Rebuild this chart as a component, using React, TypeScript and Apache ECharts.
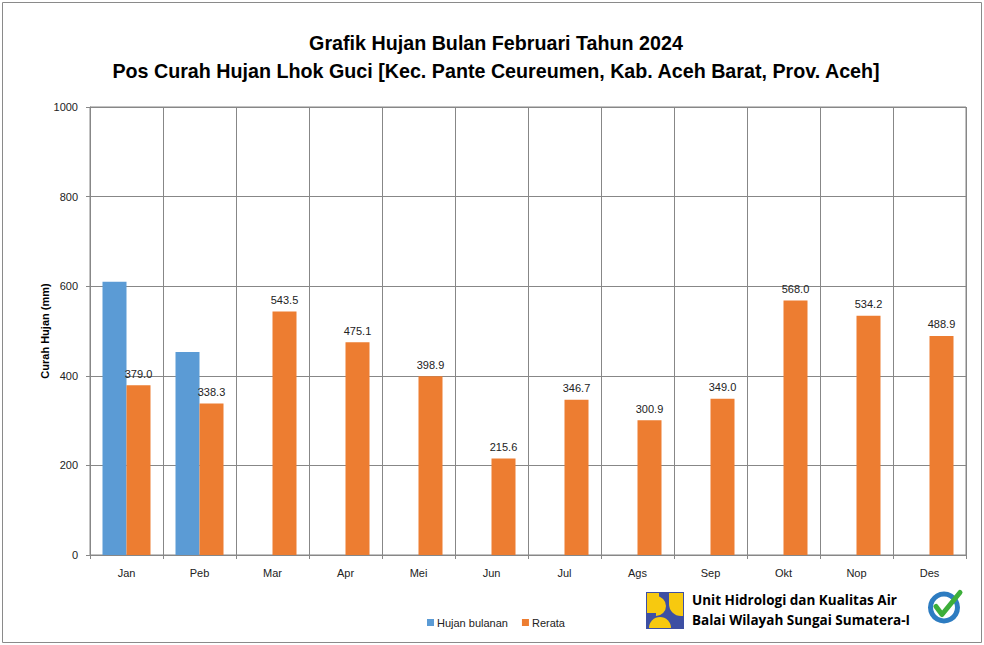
import React, { useEffect, useRef } from "react";
import * as echarts from "echarts";

const titleLine1 = "Grafik Hujan Bulan Februari Tahun 2024";
const titleLine2 = "Pos Curah Hujan Lhok Guci [Kec. Pante Ceureumen, Kab. Aceh Barat, Prov. Aceh]";
const months = ["Jan", "Peb", "Mar", "Apr", "Mei", "Jun", "Jul", "Ags", "Sep", "Okt", "Nop", "Des"];
const hujanBulanan: (number | null)[] = [610, 453, null, null, null, null, null, null, null, null, null, null];
const rerata = [379.0, 338.3, 543.5, 475.1, 398.9, 215.6, 346.7, 300.9, 349.0, 568.0, 534.2, 488.9];
const seriesNames = ["Hujan bulanan", "Rerata"];
const yAxisName = "Curah Hujan (mm)";
const footerLines = ["Unit Hidrologi dan Kualitas Air", "Balai Wilayah Sungai Sumatera-I"];

const FONT = "'Liberation Sans', Arial, sans-serif";
const GRID_COLOR = "#878787";

export default function App() {
  const ref = useRef<HTMLDivElement>(null);
  useEffect(() => {
    if (!ref.current) return;
    const chart = echarts.init(ref.current, null, { renderer: "svg" });
    chart.setOption({
      animation: false,
      backgroundColor: "#ffffff",
      textStyle: { fontFamily: FONT },
      title: [
        {
          text: titleLine1 + "\n" + titleLine2,
          left: 491,
          textAlign: "center",
          top: 24,
          textStyle: { fontFamily: FONT, fontWeight: "bold", fontSize: 19.7, color: "#000", lineHeight: 28 },
        },
      ],
      legend: {
        data: seriesNames,
        left: 422,
        top: 612,
        itemWidth: 7,
        itemHeight: 7,
        itemGap: 14,
        icon: "rect",
        textStyle: { fontFamily: FONT, fontSize: 11, color: "#222", padding: [0, 0, 0, -2] },
      },
      grid: {
        left: 90,
        right: 18,
        top: 107,
        bottom: 90,
        show: true,
        borderColor: GRID_COLOR,
        borderWidth: 1,
      },
      xAxis: {
        type: "category",
        data: months,
        boundaryGap: true,
        axisLine: { show: true, lineStyle: { color: GRID_COLOR } },
        axisTick: { show: true, length: 4, lineStyle: { color: GRID_COLOR } },
        splitLine: { show: true, lineStyle: { color: GRID_COLOR, width: 1 } },
        axisLabel: { fontFamily: FONT, fontSize: 11, color: "#222", margin: 12 },
      },
      yAxis: {
        type: "value",
        min: 0,
        max: 1000,
        interval: 200,
        name: yAxisName,
        nameLocation: "middle",
        nameGap: 40,
        nameMoveOverlap: false,
        nameTextStyle: { fontFamily: FONT, fontSize: 11, fontWeight: "bold", color: "#000" },
        axisLine: { show: true, lineStyle: { color: GRID_COLOR } },
        axisTick: { show: true, length: 4, lineStyle: { color: GRID_COLOR } },
        splitLine: { show: true, lineStyle: { color: GRID_COLOR, width: 1 } },
        axisLabel: { fontFamily: FONT, fontSize: 11, color: "#222", margin: 12, formatter: (v: number) => String(v) },
      },
      series: [
        {
          name: seriesNames[0],
          type: "bar",
          data: hujanBulanan,
          barWidth: 24,
          barGap: "0%",
          itemStyle: { color: "#5B9BD5" },
        },
        {
          name: seriesNames[1],
          type: "bar",
          data: rerata,
          barWidth: 24,
          barGap: "0%",
          itemStyle: { color: "#ED7D31" },
          label: {
            show: true,
            position: "top",
            distance: 6,
            fontFamily: FONT,
            fontSize: 11,
            color: "#222",
            formatter: (p: any) => Number(p.value).toFixed(1),
          },
        },
      ],
      graphic: [
        {
          type: "rect",
          shape: { x: 2.5, y: 2.5, width: 979, height: 640 },
          style: { fill: "none", stroke: "#8a8a8a", lineWidth: 1 },
          silent: true,
        },
        // PU logo
        {
          type: "group",
          left: 646,
          top: 592,
          children: [
            { type: "rect", shape: { x: 0, y: 0, width: 38, height: 37 }, style: { fill: "#3d4fa3" } },
            { type: "rect", shape: { x: 1, y: 1, width: 9, height: 20 }, style: { fill: "#f7c90f" } },
            { type: "sector", shape: { cx: 10, cy: 14, r: 10, startAngle: -Math.PI / 2, endAngle: Math.PI / 2 }, style: { fill: "#f7c90f" } },
            { type: "rect", shape: { x: 1, y: 1, width: 12, height: 6 }, style: { fill: "#f7c90f" } },
            { type: "rect", shape: { x: 23, y: 1, width: 14, height: 23, r: [0, 0, 0, 12] }, style: { fill: "#f7c90f" } },
            { type: "sector", shape: { cx: 14, cy: 36, r: 11, startAngle: Math.PI, endAngle: 2 * Math.PI }, style: { fill: "#f7c90f" } },
          ],
        },
        {
          type: "text",
          left: 692,
          top: 593,
          style: { text: footerLines[0], fontFamily: "'Open Sans', sans-serif", fontWeight: "bold", fontSize: 13.5, fill: "#000" },
        },
        {
          type: "text",
          left: 692,
          top: 613,
          style: { text: footerLines[1], fontFamily: "'Open Sans', sans-serif", fontWeight: "bold", fontSize: 13.5, fill: "#000" },
        },
        // ISO badge
        {
          type: "group",
          left: 928,
          top: 590,
          children: [
            { type: "circle", shape: { cx: 17, cy: 18, r: 16 }, style: { fill: "#2d7cc1" } },
            { type: "circle", shape: { cx: 17, cy: 18, r: 11 }, style: { fill: "#ffffff" } },
            { type: "polyline", shape: { points: [[9, 17], [15, 25], [33, 3]] }, style: { stroke: "#3dae3a", lineWidth: 5, fill: "none", lineCap: "round", lineJoin: "round" } },
          ],
        },
      ],
    });
    return () => chart.dispose();
  }, []);
  return <div ref={ref} style={{ position: "absolute", left: 0, top: 0, width: 984, height: 645 }} />;
}
